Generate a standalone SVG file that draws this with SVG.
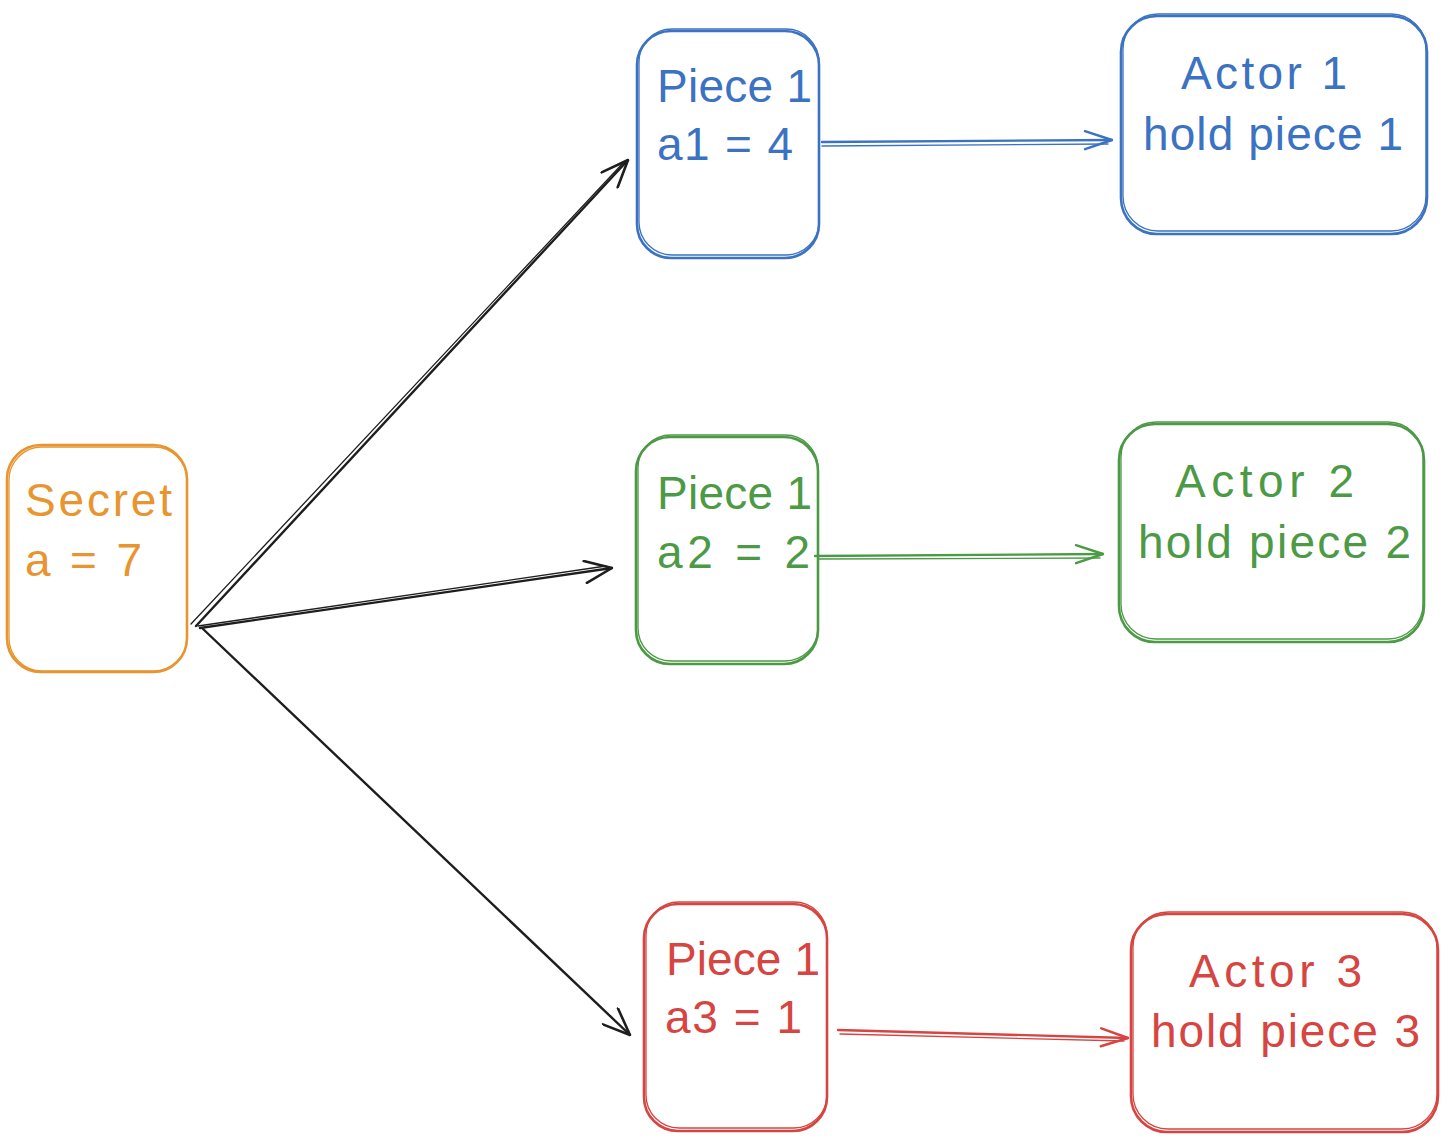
<svg xmlns="http://www.w3.org/2000/svg" width="1450" height="1144" viewBox="0 0 1450 1144">
<style>
  .box { fill: none; stroke-width: 2.6; stroke-linejoin: round; }
  .box2 { fill: none; stroke-width: 1.3; }
  .t { font-family: "Liberation Sans", Arial, sans-serif; font-size: 46px; }
  .line { fill: none; stroke-width: 2.4; stroke-linecap: round; }
  .line2 { fill: none; stroke-width: 1.3; stroke-linecap: round; }
  .orange { stroke: #e8952f; } .torange { fill: #e8952f; }
  .blue { stroke: #3b73c2; } .tblue { fill: #3b73c2; }
  .green { stroke: #4c9a45; } .tgreen { fill: #4c9a45; }
  .red { stroke: #d64541; } .tred { fill: #d64541; }
  .black { stroke: #1e1e1e; }
</style>
<defs>
  <marker id="ahK" viewBox="0 0 30 24" refX="29" refY="12" markerWidth="30" markerHeight="24" markerUnits="userSpaceOnUse" orient="auto">
    <path d="M2,1 L29,12 L2,23" fill="none" stroke="#1e1e1e" stroke-width="2.6" stroke-linecap="round" stroke-linejoin="round"/>
  </marker>
  <marker id="ahB" viewBox="0 0 30 24" refX="29" refY="12" markerWidth="30" markerHeight="24" markerUnits="userSpaceOnUse" orient="auto">
    <path d="M2,3 L29,12 L2,21" fill="none" stroke="#3b73c2" stroke-width="2.4" stroke-linecap="round" stroke-linejoin="round"/>
  </marker>
  <marker id="ahG" viewBox="0 0 30 24" refX="29" refY="12" markerWidth="30" markerHeight="24" markerUnits="userSpaceOnUse" orient="auto">
    <path d="M2,3 L29,12 L2,21" fill="none" stroke="#4c9a45" stroke-width="2.4" stroke-linecap="round" stroke-linejoin="round"/>
  </marker>
  <marker id="ahR" viewBox="0 0 30 24" refX="29" refY="12" markerWidth="30" markerHeight="24" markerUnits="userSpaceOnUse" orient="auto">
    <path d="M2,3 L29,12 L2,21" fill="none" stroke="#d64541" stroke-width="2.4" stroke-linecap="round" stroke-linejoin="round"/>
  </marker>
</defs>
<rect width="1450" height="1144" fill="#ffffff"/>

<g id="connectors">
  <line class="line black" x1="196" y1="626" x2="628" y2="160" marker-end="url(#ahK)"/>
  <line class="line2 black" x1="191" y1="624" x2="624" y2="162"/>
  <line class="line black" x1="200" y1="628" x2="612" y2="568" marker-end="url(#ahK)"/>
  <line class="line2 black" x1="198" y1="626" x2="606" y2="566"/>
  <line class="line black" x1="202" y1="628" x2="630" y2="1035" marker-end="url(#ahK)"/>
  <line class="line blue" x1="822" y1="142" x2="1112" y2="140" marker-end="url(#ahB)"/>
  <line class="line2 blue" x1="822" y1="146" x2="1108" y2="144"/>
  <line class="line green" x1="815" y1="556" x2="1103" y2="554" marker-end="url(#ahG)"/>
  <line class="line2 green" x1="818" y1="559" x2="1100" y2="558"/>
  <line class="line red" x1="838" y1="1030" x2="1128" y2="1038" marker-end="url(#ahR)"/>
  <line class="line2 red" x1="840" y1="1034" x2="1124" y2="1041"/>
</g>

<g id="secret">
  <rect class="box orange" x="7" y="445" width="180" height="227" rx="34"/>
  <rect class="box2 orange" x="9" y="447" width="178" height="224" rx="33"/>
  <text class="t torange" x="25" y="516" textLength="147" lengthAdjust="spacing">Secret</text>
  <text class="t torange" x="25" y="576" textLength="117" lengthAdjust="spacing">a = 7</text>
</g>

<g id="piece-blue">
  <rect class="box blue" x="637" y="31" width="182" height="227" rx="34"/>
  <rect class="box2 blue" x="639" y="29" width="180" height="226" rx="33"/>
  <text class="t tblue" x="657" y="102" textLength="155" lengthAdjust="spacing">Piece 1</text>
  <text class="t tblue" x="657" y="160" textLength="136" lengthAdjust="spacing">a1 = 4</text>
</g>

<g id="actor-1">
  <rect class="box blue" x="1121" y="16" width="306" height="218" rx="36"/>
  <rect class="box2 blue" x="1123" y="14" width="303" height="217" rx="35"/>
  <text class="t tblue" x="1181" y="89" textLength="166" lengthAdjust="spacing">Actor 1</text>
  <text class="t tblue" x="1143" y="150" textLength="260" lengthAdjust="spacing">hold piece 1</text>
</g>

<g id="piece-green">
  <rect class="box green" x="636" y="437" width="182" height="227" rx="34"/>
  <rect class="box2 green" x="638" y="435" width="180" height="226" rx="33"/>
  <text class="t tgreen" x="657" y="509" textLength="155" lengthAdjust="spacing">Piece 1</text>
  <text class="t tgreen" x="657" y="568" textLength="153" lengthAdjust="spacing">a2 = 2</text>
</g>

<g id="actor-2">
  <rect class="box green" x="1119" y="424" width="305" height="218" rx="36"/>
  <rect class="box2 green" x="1121" y="422" width="302" height="217" rx="35"/>
  <text class="t tgreen" x="1175" y="497" textLength="179" lengthAdjust="spacing">Actor 2</text>
  <text class="t tgreen" x="1138" y="558" textLength="273" lengthAdjust="spacing">hold piece 2</text>
</g>

<g id="piece-red">
  <rect class="box red" x="644" y="904" width="183" height="227" rx="34"/>
  <rect class="box2 red" x="646" y="902" width="181" height="226" rx="33"/>
  <text class="t tred" x="666" y="975" textLength="154" lengthAdjust="spacing">Piece 1</text>
  <text class="t tred" x="665" y="1033" textLength="137" lengthAdjust="spacing">a3 = 1</text>
</g>

<g id="actor-3">
  <rect class="box red" x="1131" y="914" width="307" height="218" rx="36"/>
  <rect class="box2 red" x="1133" y="912" width="304" height="217" rx="35"/>
  <text class="t tred" x="1189" y="987" textLength="173" lengthAdjust="spacing">Actor 3</text>
  <text class="t tred" x="1151" y="1047" textLength="269" lengthAdjust="spacing">hold piece 3</text>
</g>
</svg>
